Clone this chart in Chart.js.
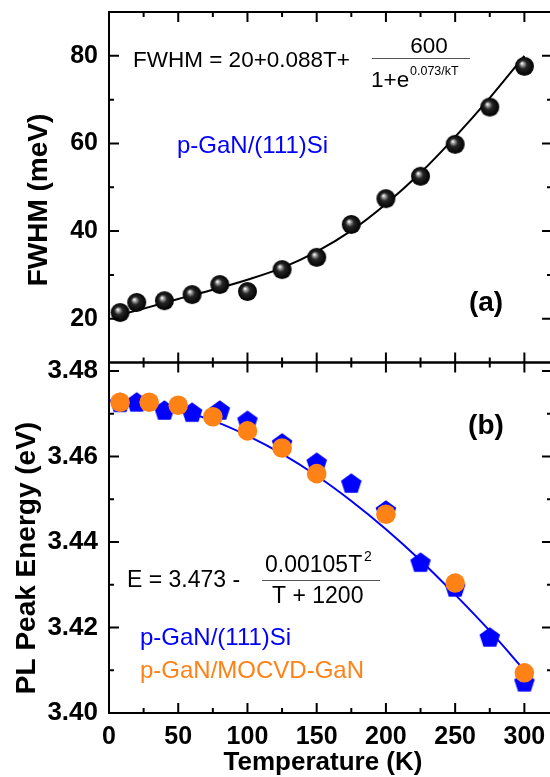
<!DOCTYPE html>
<html>
<head>
<meta charset="utf-8">
<script src="https://cdn.jsdelivr.net/npm/chart.js@4/dist/chart.umd.min.js"></script>
<style>
  html, body { margin: 0; padding: 0; background: #ffffff; }
  #wrap { position: relative; width: 550px; height: 777px; }
</style>
</head>
<body>
<div id="wrap"><canvas id="c" width="550" height="777"></canvas></div>
<script>
// ---------------- data ----------------
// (a) FWHM vs temperature, p-GaN/(111)Si
const fwhmT      = [8, 20, 40, 60, 80, 100, 125, 150, 175, 200, 225, 250, 275, 300];
const fwhmValues = [21.4, 23.7, 24.1, 25.5, 27.8, 26.2, 31.2, 34.0, 41.5, 47.4, 52.5, 59.8, 68.3, 77.6];
// fitted curve of (a)
const fwhmFitT      = [5, 25, 50, 75, 100, 125, 150, 175, 200, 225, 250, 275, 300];
const fwhmFitValues = [20.6, 22.3, 24.5, 26.6, 28.9, 31.6, 35.3, 40.1, 46.2, 53.3, 61.5, 70.4, 80.0];

// (b) PL peak energy vs temperature
const siT      = [8, 20, 40, 60, 80, 100, 125, 150, 175, 200, 225, 250, 275, 300];
const siEnergy = [3.4727, 3.4728, 3.4709, 3.4704, 3.4709, 3.4685, 3.4632, 3.4587, 3.4538, 3.4475, 3.4353, 3.4295, 3.4178, 3.4073];
const mocvdT      = [8, 29, 50, 75, 100, 125, 150, 200, 250, 300];
const mocvdEnergy = [3.4727, 3.4727, 3.4720, 3.4693, 3.4660, 3.4620, 3.4560, 3.4465, 3.4304, 3.4094];
// fitted curve of (b)
const eFitT      = [10, 25, 50, 75, 100, 125, 150, 175, 200, 225, 250, 275, 300];
const eFitValues = [3.4730, 3.4725, 3.4709, 3.4684, 3.4649, 3.4606, 3.4555, 3.4496, 3.4430, 3.4357, 3.4277, 3.4192, 3.4100];

// tick labels
const xTicks      = [0, 50, 100, 150, 200, 250, 300];
const xMinorTicks = [25, 75, 125, 175, 225, 275];
const fwhmTicks      = [20, 40, 60, 80];
const fwhmMinorTicks = [30, 50, 70];
const eTicks      = [3.40, 3.42, 3.44, 3.46, 3.48];
const eMinorTicks = [3.41, 3.43, 3.45, 3.47];

// ---------------- styling ----------------
const FONT = "'Liberation Sans', Arial, sans-serif";
const BLUE = '#0000ff';
const ORANGE = '#ff8216';

const pts = (xs, ys) => xs.map((v, i) => ({ x: v, y: ys[i] }));

function sphere(r) {
  const s = 2 * r + 2, c = document.createElement('canvas');
  c.width = c.height = s;
  const g = c.getContext('2d'), cx = s / 2, cy = s / 2;
  const grad = g.createRadialGradient(cx - 2.5, cy - 3, 0.3, cx, cy, r);
  grad.addColorStop(0, '#ffffff');
  grad.addColorStop(0.16, '#a0a0a0');
  grad.addColorStop(0.42, '#252525');
  grad.addColorStop(1, '#000000');
  g.fillStyle = grad;
  g.beginPath(); g.arc(cx, cy, r, 0, Math.PI * 2); g.fill();
  return c;
}
function pentagon(r, color) {
  const s = Math.ceil(2 * r + 2), c = document.createElement('canvas');
  c.width = c.height = s;
  const g = c.getContext('2d'), cx = s / 2, cy = s / 2 + r * 0.1;
  g.fillStyle = color;
  g.beginPath();
  for (let k = 0; k < 5; k++) {
    const a = -Math.PI / 2 + k * 2 * Math.PI / 5;
    const px = cx + r * Math.cos(a), py = cy + r * Math.sin(a);
    k ? g.lineTo(px, py) : g.moveTo(px, py);
  }
  g.closePath(); g.fill();
  return c;
}
const sphereImg = sphere(9.5);
const pentImg = pentagon(10.8, BLUE);

// frame, inward ticks, axis titles and annotation text
const decor = {
  id: 'decor',
  afterDraw(chart) {
    const ctx = chart.ctx;
    const xs = chart.scales.x, yA = chart.scales.yA, yB = chart.scales.yB;
    const L = xs.left, R = xs.right + 2;   // right frame sits just past the picture edge
    ctx.save();
    ctx.strokeStyle = '#000';
    ctx.lineWidth = 2;
    const panels = [
      [yA, fwhmTicks, fwhmMinorTicks],
      [yB, eTicks, eMinorTicks]
    ];
    for (const [ys, maj, mnr] of panels) {
      const T = ys.top, B = ys.bottom;
      ctx.strokeRect(L, T, R - L, B - T);
      ctx.beginPath();
      for (const [list, len] of [[xTicks, 10], [xMinorTicks, 5]]) {
        for (const v of list) {
          const p = xs.getPixelForValue(v);
          ctx.moveTo(p, T); ctx.lineTo(p, T + len);
          ctx.moveTo(p, B); ctx.lineTo(p, B - len);
        }
      }
      for (const [list, len] of [[maj, 10], [mnr, 5]]) {
        for (const v of list) {
          const p = ys.getPixelForValue(v);
          ctx.moveTo(L, p); ctx.lineTo(L + len, p);
          ctx.moveTo(R, p); ctx.lineTo(R - len, p);
        }
      }
      ctx.stroke();
    }

    // axis titles
    ctx.fillStyle = '#000';
    ctx.textAlign = 'center';
    ctx.textBaseline = 'middle';
    ctx.font = 'bold 28px ' + FONT;
    ctx.save(); ctx.translate(39, 200); ctx.rotate(-Math.PI / 2);
    ctx.fillText('FWHM (meV)', 0, 0); ctx.restore();
    ctx.save(); ctx.translate(27, 558); ctx.rotate(-Math.PI / 2);
    ctx.fillText('PL Peak Energy (eV)', 0, 0); ctx.restore();
    ctx.font = 'bold 26px ' + FONT;
    ctx.fillText('Temperature (K)', 323, 763);

    // text annotations
    ctx.textBaseline = 'alphabetic';
    ctx.textAlign = 'left';
    ctx.font = '22.5px ' + FONT;
    ctx.fillText('FWHM = 20+0.088T+', 133, 67);
    ctx.textAlign = 'center';
    ctx.fillText('600', 429, 53);
    ctx.textAlign = 'left';
    ctx.fillText('1+e', 371, 87);
    ctx.font = '12.5px ' + FONT;
    ctx.fillText('0.073/kT', 410, 75);
    ctx.strokeStyle = '#555';
    ctx.lineWidth = 1;
    ctx.beginPath(); ctx.moveTo(372, 58.5); ctx.lineTo(470, 58.5); ctx.stroke();

    ctx.font = '23px ' + FONT;
    ctx.fillText('E = 3.473 -', 127, 587);
    ctx.fillText('0.00105T', 265, 572);
    ctx.fillText('T + 1200', 272, 603);
    ctx.font = '14px ' + FONT;
    ctx.fillText('2', 364, 561);
    ctx.beginPath(); ctx.moveTo(262, 580.5); ctx.lineTo(380, 580.5); ctx.stroke();

    ctx.font = '24px ' + FONT;
    ctx.fillStyle = BLUE;
    ctx.fillText('p-GaN/(111)Si', 177, 153);
    ctx.fillText('p-GaN/(111)Si', 140, 645);
    ctx.fillStyle = ORANGE;
    ctx.fillText('p-GaN/MOCVD-GaN', 140, 678);

    ctx.fillStyle = '#000';
    ctx.font = 'bold 28px ' + FONT;
    ctx.textAlign = 'center';
    ctx.textBaseline = 'middle';
    ctx.fillText('(a)', 486, 303);
    ctx.fillText('(b)', 486, 426);
    ctx.restore();
  }
};

const tickFont = (size) => ({ family: FONT, size: size, weight: 'bold' });
const setTicks = (list) => (s) => { s.ticks = list.map(v => ({ value: v })); };
const noPad = (s) => { s.paddingTop = 0; s.paddingBottom = 0; s.paddingLeft = 0; s.paddingRight = 0; };

new Chart(document.getElementById('c'), {
  type: 'scatter',
  data: {
    datasets: [
      { label: 'FWHM', data: pts(fwhmT, fwhmValues), xAxisID: 'x', yAxisID: 'yA',
        pointStyle: sphereImg, pointRadius: 9, order: 0 },
      { label: 'FWHM fit', data: pts(fwhmFitT, fwhmFitValues), xAxisID: 'x', yAxisID: 'yA',
        showLine: true, borderColor: '#000', borderWidth: 2, pointRadius: 0,
        cubicInterpolationMode: 'monotone', order: 1 },
      { label: 'p-GaN/MOCVD-GaN', data: pts(mocvdT, mocvdEnergy), xAxisID: 'x', yAxisID: 'yB',
        pointStyle: 'circle', pointRadius: 9.8, backgroundColor: ORANGE, borderWidth: 0, order: 2 },
      { label: 'p-GaN/(111)Si', data: pts(siT, siEnergy), xAxisID: 'x', yAxisID: 'yB',
        pointStyle: pentImg, pointRadius: 10, order: 3 },
      { label: 'E fit', data: pts(eFitT, eFitValues), xAxisID: 'x', yAxisID: 'yB',
        showLine: true, borderColor: BLUE, borderWidth: 2, pointRadius: 0,
        cubicInterpolationMode: 'monotone', order: 4 }
    ]
  },
  options: {
    responsive: false,
    animation: false,
    maintainAspectRatio: false,
    clip: false,
    layout: { autoPadding: false, padding: { top: 12, left: 0, right: 0, bottom: 0 } },
    plugins: { legend: { display: false }, tooltip: { enabled: false } },
    scales: {
      x: {
        type: 'linear', position: 'bottom', min: 0, max: 318.5,
        afterBuildTicks: setTicks(xTicks),
        afterFit: (s) => { s.height = 64; noPad(s); },
        grid: { display: false, drawTicks: false }, border: { display: false },
        ticks: { color: '#000', font: tickFont(25), padding: 9, maxRotation: 0, autoSkip: false },
        title: { display: false }
      },
      yA: {
        type: 'linear', position: 'left', stack: 'v', stackWeight: 1, weight: 2,
        min: 10, max: 90,
        afterBuildTicks: setTicks(fwhmTicks),
        afterFit: (s) => { s.width = 109; noPad(s); },
        grid: { display: false, drawTicks: false }, border: { display: false },
        ticks: { color: '#000', font: tickFont(25), padding: 11 },
        title: { display: false }
      },
      yB: {
        type: 'linear', position: 'left', stack: 'v', stackWeight: 1, weight: 1,
        min: 3.40, max: 3.482,
        afterBuildTicks: setTicks(eTicks),
        afterFit: (s) => { s.width = 109; noPad(s); },
        grid: { display: false, drawTicks: false }, border: { display: false },
        ticks: { color: '#000', font: tickFont(26), padding: 11, callback: (v) => Number(v).toFixed(2) },
        title: { display: false }
      }
    }
  },
  plugins: [decor]
});
</script>
</body>
</html>
